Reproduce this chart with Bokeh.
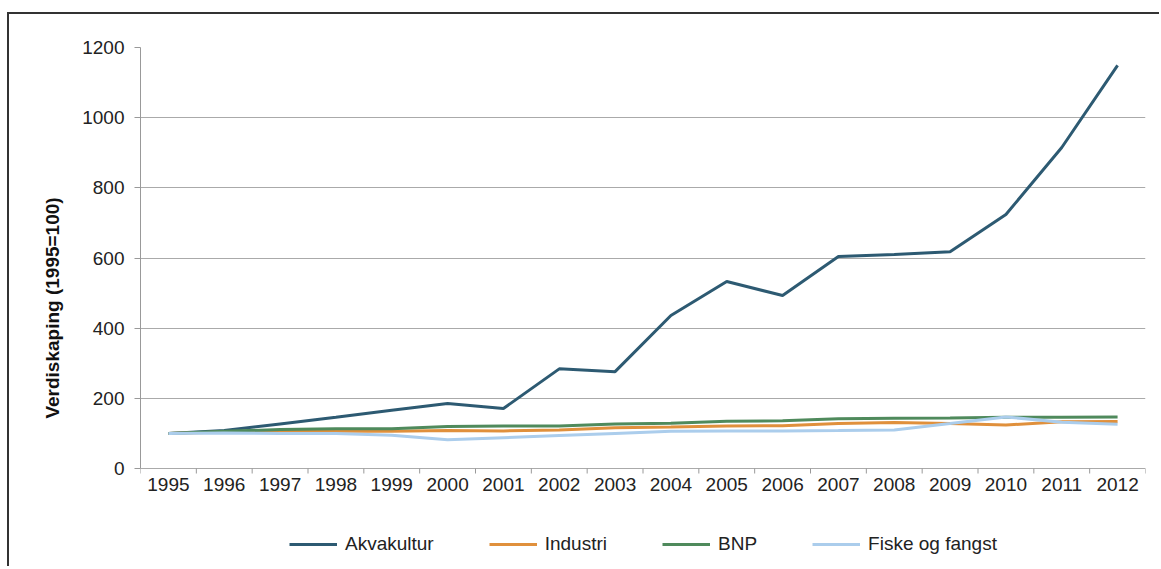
from bokeh.plotting import figure
from bokeh.models import Range1d, FixedTicker, Legend, LegendItem
from bokeh.core.properties import value
from bokeh.embed import file_html
from bokeh.resources import INLINE

years = list(range(1995, 2013))
akvakultur = [100, 108, 127, 146, 166, 185, 171, 284, 276, 436, 533, 493, 604, 610, 618, 724, 915, 1149]
industri = [100, 104, 106, 107, 106, 108, 107, 110, 116, 118, 121, 122, 128, 131, 128, 124, 133, 134]
bnp = [100, 106, 111, 113, 113, 120, 121, 121, 127, 129, 135, 136, 142, 143, 144, 146, 146, 147]
fiske = [100, 101, 100, 100, 95, 82, 88, 94, 100, 106, 107, 107, 108, 110, 128, 147, 132, 126]
y_ticks = [0, 200, 400, 600, 800, 1000, 1200]
year_labels = [str(y) for y in years]

series = [
    ("Akvakultur", akvakultur, "#2d5a72"),
    ("Industri", industri, "#e0903c"),
    ("BNP", bnp, "#4f8a5c"),
    ("Fiske og fangst", fiske, "#abcdec"),
]

FONT = "Liberation Sans"

# layout: value axis occupies 421 px of the frame, the rest below holds tick labels + legend
AXIS_PX = 421.0
BELOW_PX = 100.0
upp = y_ticks[-1] / AXIS_PX           # data units per pixel
y_min = -BELOW_PX * upp

p = figure(width=1152, height=554,
           output_backend="svg", toolbar_location=None,
           x_range=Range1d(years[0] - 0.5, years[-1] + 0.5),
           y_range=Range1d(y_min, y_ticks[-1]),
           min_border_left=131, min_border_right=16, min_border_top=33, min_border_bottom=0)
p.styles = {"margin-left": "7px", "margin-top": "12px",
            "border-top": "2px solid #333", "border-left": "2px solid #333"}
p.outline_line_color = None
p.background_fill_color = "white"
p.border_fill_color = "white"
p.xaxis.visible = False
p.xgrid.grid_line_color = None

renderers = []
for name, vals, col in series:
    r = p.line(years, vals, line_color=col, line_width=3)
    renderers.append((name, r))

# category boundary tick marks and year labels under the zero line
bounds_x = [y - 0.5 for y in years] + [years[-1] + 0.5]
p.segment(x0=bounds_x, y0=[0] * len(bounds_x), x1=bounds_x, y1=[-5 * upp] * len(bounds_x),
          line_color="#999999", line_width=1)
p.text(x=years, y=[-9 * upp] * len(years), text=year_labels,
       text_font=value(FONT), text_font_size="19px", text_color="#222222",
       text_align="center", text_baseline="top")

# y axis
p.yaxis.bounds = (y_ticks[0], y_ticks[-1])
p.yaxis.ticker = FixedTicker(ticks=y_ticks)
p.yaxis.minor_tick_line_color = None
p.yaxis.major_tick_out = 6
p.yaxis.major_tick_in = 0
p.yaxis.major_tick_line_color = "#999999"
p.yaxis.axis_line_color = "#999999"
p.yaxis.major_label_text_font = FONT
p.yaxis.major_label_text_font_size = "19px"
p.yaxis.major_label_text_color = "#222222"
p.yaxis.major_label_standoff = 10
p.yaxis.axis_label = "Verdiskaping (1995=100)"
p.yaxis.axis_label_text_font = FONT
p.yaxis.axis_label_text_font_style = "bold"
p.yaxis.axis_label_text_font_size = "19px"
p.yaxis.axis_label_text_color = "#111111"
p.yaxis.axis_label_standoff = 16
p.ygrid.grid_line_color = "#aaaaaa"
p.ygrid.grid_line_width = 1

legend = Legend(items=[LegendItem(label=n, renderers=[r]) for n, r in renderers],
                orientation="horizontal", location=(149, 13),
                label_text_font=FONT, label_text_font_size="19px", label_text_color="#222222",
                glyph_width=48, label_standoff=8, spacing=55, border_line_color=None,
                background_fill_alpha=0, margin=0, padding=4)
p.add_layout(legend)

open("out.html", "w").write(file_html(p, INLINE))
